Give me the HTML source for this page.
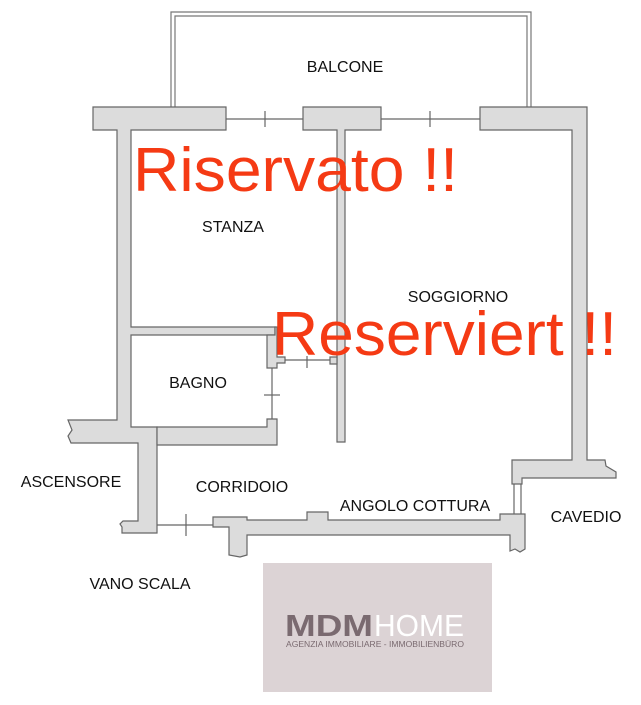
<!DOCTYPE html>
<html><head><style>
html,body{margin:0;padding:0;background:#fff;}
svg{display:block;}
text{font-family:"Liberation Sans",Arial,sans-serif;}
</style></head><body>
<svg width="641" height="705" viewBox="0 0 641 705" xmlns="http://www.w3.org/2000/svg">
<g fill="none" stroke="#777" stroke-width="1.2">
<path d="M171 108 V12 H531 V108"/>
<path d="M175 108 V16 H527 V108"/>
</g>
<g fill="#dcdcdc" stroke="#666" stroke-width="1.2">
<path d="M93 107 H226 V130 H131 V327 H275 V335 H131 V427 H157 V443 H157 V533 H122 V527 L120 524 L123 521 H138 V443 H71 L68 436 L72 430 L68 420 H117 V130 H93 Z"/>
<path d="M157 427 H267 V419 H277 V445 H157 Z"/>
<path d="M267 335 H275 V327 H277 V357 H285 V363 H277 V368 H267 Z"/>
<path d="M303 107 H381 V130 H345 V442 H337 V130 H303 Z"/>
<path d="M330 357 H337 V364 H330 Z"/>
<path d="M480 107 H587 V460 H605 L606 466 L616 472 V478 H522 V484 H512 V460 H572 V130 H480 Z"/>
<path d="M213 517 H247 V520 H307 V512 H328 V520 H500 V514 H525 V549 L520 552 L515 549 L510 551 V535 H247 V555 L240 557 L229 555 V527 H213 Z"/>
</g>
<g stroke="#666" stroke-width="1.2" fill="none">
<line x1="226" y1="119" x2="303" y2="119"/><line x1="265" y1="111" x2="265" y2="127"/>
<line x1="381" y1="119" x2="480" y2="119"/><line x1="430" y1="111" x2="430" y2="127"/>
<line x1="285" y1="360" x2="330" y2="360"/><line x1="307" y1="356" x2="307" y2="368"/>
<line x1="272" y1="368" x2="272" y2="419"/><line x1="264" y1="395" x2="280" y2="395"/>
<line x1="157" y1="525" x2="213" y2="525"/><line x1="186" y1="514" x2="186" y2="536"/>
<line x1="514" y1="484" x2="514" y2="514"/><line x1="521" y1="484" x2="521" y2="514"/>
</g>
<g font-size="16" fill="#111" text-anchor="middle">
<text x="345" y="72">BALCONE</text>
<text x="233" y="232">STANZA</text>
<text x="458" y="302">SOGGIORNO</text>
<text x="198" y="388">BAGNO</text>
<text x="71" y="487">ASCENSORE</text>
<text x="242" y="492">CORRIDOIO</text>
<text x="415" y="511">ANGOLO COTTURA</text>
<text x="586" y="522">CAVEDIO</text>
<text x="140" y="589">VANO SCALA</text>
</g>
<g fill="#f53a14" font-size="62">
<text x="133" y="191" textLength="325" lengthAdjust="spacingAndGlyphs">Riservato !!</text>
<text x="272" y="355" textLength="345" lengthAdjust="spacingAndGlyphs">Reserviert !!</text>
</g>
<rect x="263" y="563" width="229" height="129" fill="#dcd3d5"/>
<text x="285" y="636" font-size="31" font-weight="bold" fill="#7a6a70" textLength="88" lengthAdjust="spacingAndGlyphs">MDM</text>
<text x="374" y="636" font-size="31" fill="#ffffff" textLength="90" lengthAdjust="spacingAndGlyphs">HOME</text>
<text x="286" y="647" font-size="8.5" fill="#7a6a70" textLength="178" lengthAdjust="spacingAndGlyphs">AGENZIA IMMOBILIARE - IMMOBILIENBÜRO</text>
</svg>
</body></html>
